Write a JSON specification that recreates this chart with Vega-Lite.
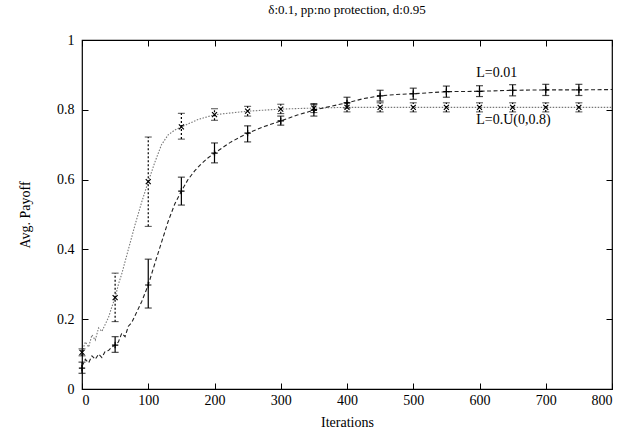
{
  "$schema": "https://vega.github.io/schema/vega-lite/v6.json",
  "width": 530,
  "height": 349,
  "autosize": "none",
  "padding": {"left": 82, "top": 40, "right": 12, "bottom": 49},
  "config": {
    "font": "Liberation Serif, Times New Roman, serif",
    "view": {"stroke": "#000", "strokeWidth": 1.2},
    "text": {"font": "Liberation Serif, Times New Roman, serif"},
    "axis": {"domain": false, "grid": false, "tickColor": "#000", "tickSize": -6, "labelColor": "#000", "labelFontSize": 14, "titleFontSize": 14, "titleFontWeight": "normal", "titleColor": "#000", "labelFont": "Liberation Serif, Times New Roman, serif", "titleFont": "Liberation Serif, Times New Roman, serif"}
  },
  "title": {"text": "δ:0.1, pp:no protection, d:0.95", "fontSize": 13, "fontWeight": "normal", "font": "Liberation Serif, Times New Roman, serif", "color": "#000", "offset": 16},
  "datasets": {
    "lines": [
      {"series": "L=0.01", "x": 0, "y": 0.065}, {"series": "L=0.01", "x": 5, "y": 0.085}, {"series": "L=0.01", "x": 10, "y": 0.075}, {"series": "L=0.01", "x": 15, "y": 0.095}, {"series": "L=0.01", "x": 20, "y": 0.085}, {"series": "L=0.01", "x": 25, "y": 0.1}, {"series": "L=0.01", "x": 30, "y": 0.09}, {"series": "L=0.01", "x": 35, "y": 0.108}, {"series": "L=0.01", "x": 40, "y": 0.11}, {"series": "L=0.01", "x": 45, "y": 0.12}, {"series": "L=0.01", "x": 50, "y": 0.126}, {"series": "L=0.01", "x": 55, "y": 0.135}, {"series": "L=0.01", "x": 60, "y": 0.16}, {"series": "L=0.01", "x": 65, "y": 0.15}, {"series": "L=0.01", "x": 70, "y": 0.18}, {"series": "L=0.01", "x": 75, "y": 0.19}, {"series": "L=0.01", "x": 80, "y": 0.21}, {"series": "L=0.01", "x": 90, "y": 0.25}, {"series": "L=0.01", "x": 100, "y": 0.298}, {"series": "L=0.01", "x": 110, "y": 0.36}, {"series": "L=0.01", "x": 120, "y": 0.42}, {"series": "L=0.01", "x": 130, "y": 0.48}, {"series": "L=0.01", "x": 140, "y": 0.53}, {"series": "L=0.01", "x": 150, "y": 0.567}, {"series": "L=0.01", "x": 160, "y": 0.6}, {"series": "L=0.01", "x": 170, "y": 0.625}, {"series": "L=0.01", "x": 180, "y": 0.645}, {"series": "L=0.01", "x": 190, "y": 0.662}, {"series": "L=0.01", "x": 200, "y": 0.676}, {"series": "L=0.01", "x": 225, "y": 0.708}, {"series": "L=0.01", "x": 250, "y": 0.733}, {"series": "L=0.01", "x": 275, "y": 0.752}, {"series": "L=0.01", "x": 300, "y": 0.768}, {"series": "L=0.01", "x": 325, "y": 0.785}, {"series": "L=0.01", "x": 350, "y": 0.799}, {"series": "L=0.01", "x": 375, "y": 0.81}, {"series": "L=0.01", "x": 400, "y": 0.82}, {"series": "L=0.01", "x": 425, "y": 0.832}, {"series": "L=0.01", "x": 450, "y": 0.84}, {"series": "L=0.01", "x": 475, "y": 0.844}, {"series": "L=0.01", "x": 500, "y": 0.846}, {"series": "L=0.01", "x": 550, "y": 0.852}, {"series": "L=0.01", "x": 600, "y": 0.853}, {"series": "L=0.01", "x": 650, "y": 0.856}, {"series": "L=0.01", "x": 700, "y": 0.857}, {"series": "L=0.01", "x": 750, "y": 0.857}, {"series": "L=0.01", "x": 800, "y": 0.858},
      {"series": "L=0.U(0,0.8)", "x": 0, "y": 0.105}, {"series": "L=0.U(0,0.8)", "x": 5, "y": 0.135}, {"series": "L=0.U(0,0.8)", "x": 10, "y": 0.12}, {"series": "L=0.U(0,0.8)", "x": 15, "y": 0.155}, {"series": "L=0.U(0,0.8)", "x": 20, "y": 0.14}, {"series": "L=0.U(0,0.8)", "x": 25, "y": 0.175}, {"series": "L=0.U(0,0.8)", "x": 30, "y": 0.165}, {"series": "L=0.U(0,0.8)", "x": 35, "y": 0.185}, {"series": "L=0.U(0,0.8)", "x": 40, "y": 0.205}, {"series": "L=0.U(0,0.8)", "x": 45, "y": 0.235}, {"series": "L=0.U(0,0.8)", "x": 50, "y": 0.262}, {"series": "L=0.U(0,0.8)", "x": 55, "y": 0.3}, {"series": "L=0.U(0,0.8)", "x": 60, "y": 0.33}, {"series": "L=0.U(0,0.8)", "x": 70, "y": 0.4}, {"series": "L=0.U(0,0.8)", "x": 80, "y": 0.47}, {"series": "L=0.U(0,0.8)", "x": 90, "y": 0.535}, {"series": "L=0.U(0,0.8)", "x": 100, "y": 0.594}, {"series": "L=0.U(0,0.8)", "x": 110, "y": 0.65}, {"series": "L=0.U(0,0.8)", "x": 120, "y": 0.7}, {"series": "L=0.U(0,0.8)", "x": 130, "y": 0.728}, {"series": "L=0.U(0,0.8)", "x": 140, "y": 0.742}, {"series": "L=0.U(0,0.8)", "x": 150, "y": 0.751}, {"series": "L=0.U(0,0.8)", "x": 175, "y": 0.772}, {"series": "L=0.U(0,0.8)", "x": 200, "y": 0.786}, {"series": "L=0.U(0,0.8)", "x": 250, "y": 0.796}, {"series": "L=0.U(0,0.8)", "x": 300, "y": 0.802}, {"series": "L=0.U(0,0.8)", "x": 350, "y": 0.805}, {"series": "L=0.U(0,0.8)", "x": 400, "y": 0.807}, {"series": "L=0.U(0,0.8)", "x": 500, "y": 0.807}, {"series": "L=0.U(0,0.8)", "x": 600, "y": 0.807}, {"series": "L=0.U(0,0.8)", "x": 700, "y": 0.807}, {"series": "L=0.U(0,0.8)", "x": 800, "y": 0.807}
    ],
    "bars": [
      {"series": "L=0.01", "x": 0, "y": 0.06, "lo": 0.045, "hi": 0.077},
      {"series": "L=0.01", "x": 50, "y": 0.126, "lo": 0.105, "hi": 0.15},
      {"series": "L=0.01", "x": 100, "y": 0.298, "lo": 0.232, "hi": 0.372},
      {"series": "L=0.01", "x": 150, "y": 0.567, "lo": 0.527, "hi": 0.607},
      {"series": "L=0.01", "x": 200, "y": 0.676, "lo": 0.648, "hi": 0.705},
      {"series": "L=0.01", "x": 250, "y": 0.733, "lo": 0.708, "hi": 0.754},
      {"series": "L=0.01", "x": 300, "y": 0.768, "lo": 0.756, "hi": 0.782},
      {"series": "L=0.01", "x": 350, "y": 0.799, "lo": 0.782, "hi": 0.815},
      {"series": "L=0.01", "x": 400, "y": 0.82, "lo": 0.805, "hi": 0.836},
      {"series": "L=0.01", "x": 450, "y": 0.84, "lo": 0.825, "hi": 0.856},
      {"series": "L=0.01", "x": 500, "y": 0.846, "lo": 0.83, "hi": 0.862},
      {"series": "L=0.01", "x": 550, "y": 0.852, "lo": 0.836, "hi": 0.868},
      {"series": "L=0.01", "x": 600, "y": 0.853, "lo": 0.838, "hi": 0.869},
      {"series": "L=0.01", "x": 650, "y": 0.856, "lo": 0.84, "hi": 0.872},
      {"series": "L=0.01", "x": 700, "y": 0.857, "lo": 0.841, "hi": 0.873},
      {"series": "L=0.01", "x": 750, "y": 0.857, "lo": 0.841, "hi": 0.873},
      {"series": "L=0.U(0,0.8)", "x": 0, "y": 0.105, "lo": 0.095, "hi": 0.115},
      {"series": "L=0.U(0,0.8)", "x": 50, "y": 0.262, "lo": 0.193, "hi": 0.332},
      {"series": "L=0.U(0,0.8)", "x": 100, "y": 0.594, "lo": 0.466, "hi": 0.722},
      {"series": "L=0.U(0,0.8)", "x": 150, "y": 0.751, "lo": 0.716, "hi": 0.79},
      {"series": "L=0.U(0,0.8)", "x": 200, "y": 0.786, "lo": 0.77, "hi": 0.803},
      {"series": "L=0.U(0,0.8)", "x": 250, "y": 0.796, "lo": 0.782, "hi": 0.81},
      {"series": "L=0.U(0,0.8)", "x": 300, "y": 0.802, "lo": 0.789, "hi": 0.816},
      {"series": "L=0.U(0,0.8)", "x": 350, "y": 0.805, "lo": 0.792, "hi": 0.818},
      {"series": "L=0.U(0,0.8)", "x": 400, "y": 0.807, "lo": 0.794, "hi": 0.82},
      {"series": "L=0.U(0,0.8)", "x": 450, "y": 0.807, "lo": 0.794, "hi": 0.82},
      {"series": "L=0.U(0,0.8)", "x": 500, "y": 0.807, "lo": 0.794, "hi": 0.82},
      {"series": "L=0.U(0,0.8)", "x": 550, "y": 0.807, "lo": 0.794, "hi": 0.82},
      {"series": "L=0.U(0,0.8)", "x": 600, "y": 0.807, "lo": 0.794, "hi": 0.82},
      {"series": "L=0.U(0,0.8)", "x": 650, "y": 0.807, "lo": 0.794, "hi": 0.82},
      {"series": "L=0.U(0,0.8)", "x": 700, "y": 0.807, "lo": 0.794, "hi": 0.82},
      {"series": "L=0.U(0,0.8)", "x": 750, "y": 0.807, "lo": 0.794, "hi": 0.82}
    ],
    "labels": [
      {"series": "L=0.01", "x": 595, "y": 0.905},
      {"series": "L=0.U(0,0.8)", "x": 595, "y": 0.77}
    ]
  },
  "resolve": {"axis": {"x": "independent", "y": "independent"}},
  "layer": [
    {
      "data": {"name": "lines"},
      "transform": [{"filter": "datum.series == 'L=0.U(0,0.8)'"}],
      "mark": {"type": "line", "color": "#777", "strokeDash": [1.5, 1.5], "strokeWidth": 1.1},
      "encoding": {
        "x": {"field": "x", "type": "quantitative", "scale": {"domain": [0, 800], "nice": false}, "axis": {"orient": "bottom", "title": "Iterations", "values": [0,100,200,300,400,500,600,700,800], "labelPadding": 10, "titlePadding": 8}},
        "y": {"field": "y", "type": "quantitative", "scale": {"domain": [0, 1], "nice": false}, "axis": {"orient": "left", "title": "Avg. Payoff", "format": "~g", "values": [0,0.2,0.4,0.6,0.8,1], "labelPadding": 14, "titlePadding": 24}}
      }
    },
    {
      "data": {"name": "lines"},
      "transform": [{"filter": "datum.series == 'L=0.01'"}],
      "mark": {"type": "line", "color": "#222", "strokeDash": [4, 2.5], "strokeWidth": 1.1},
      "encoding": {
        "x": {"field": "x", "type": "quantitative", "axis": {"orient": "top", "labels": false, "title": null, "values": [0,100,200,300,400,500,600,700,800]}},
        "y": {"field": "y", "type": "quantitative", "axis": {"orient": "right", "labels": false, "title": null, "values": [0,0.2,0.4,0.6,0.8,1]}}
      }
    },
    {
      "data": {"name": "bars"},
      "transform": [{"filter": "datum.series == 'L=0.01'"}],
      "layer": [
        {"mark": {"type": "rule", "color": "#000", "strokeWidth": 1.2}, "encoding": {"x": {"field": "x", "type": "quantitative", "axis": null}, "y": {"field": "lo", "type": "quantitative", "axis": null}, "y2": {"field": "hi"}}},
        {"mark": {"type": "tick", "orient": "horizontal", "color": "#000", "size": 7, "thickness": 1.2}, "encoding": {"x": {"field": "x", "type": "quantitative", "axis": null}, "y": {"field": "lo", "type": "quantitative", "axis": null}}},
        {"mark": {"type": "tick", "orient": "horizontal", "color": "#000", "size": 7, "thickness": 1.2}, "encoding": {"x": {"field": "x", "type": "quantitative", "axis": null}, "y": {"field": "hi", "type": "quantitative", "axis": null}}},
        {"mark": {"type": "point", "shape": "M-1,0L1,0M0,-1L0,1", "filled": false, "color": "#000", "size": 40, "strokeWidth": 1.2, "opacity": 1}, "encoding": {"x": {"field": "x", "type": "quantitative", "axis": null}, "y": {"field": "y", "type": "quantitative", "axis": null}}}
      ]
    },
    {
      "data": {"name": "bars"},
      "transform": [{"filter": "datum.series == 'L=0.U(0,0.8)'"}],
      "layer": [
        {"mark": {"type": "rule", "color": "#000", "strokeWidth": 1.2, "strokeDash": [2, 2]}, "encoding": {"x": {"field": "x", "type": "quantitative", "axis": null}, "y": {"field": "lo", "type": "quantitative", "axis": null}, "y2": {"field": "hi"}}},
        {"mark": {"type": "tick", "orient": "horizontal", "color": "#000", "size": 7, "thickness": 1, "strokeDash": [2, 1]}, "encoding": {"x": {"field": "x", "type": "quantitative", "axis": null}, "y": {"field": "lo", "type": "quantitative", "axis": null}}},
        {"mark": {"type": "tick", "orient": "horizontal", "color": "#000", "size": 7, "thickness": 1, "strokeDash": [2, 1]}, "encoding": {"x": {"field": "x", "type": "quantitative", "axis": null}, "y": {"field": "hi", "type": "quantitative", "axis": null}}},
        {"mark": {"type": "point", "shape": "M-1,-1L1,1M-1,1L1,-1", "filled": false, "color": "#000", "size": 25, "strokeWidth": 1.2, "opacity": 1}, "encoding": {"x": {"field": "x", "type": "quantitative", "axis": null}, "y": {"field": "y", "type": "quantitative", "axis": null}}}
      ]
    },
    {
      "data": {"name": "labels"},
      "mark": {"type": "text", "align": "left", "baseline": "middle", "fontSize": 14, "font": "Liberation Serif, Times New Roman, serif", "color": "#000"},
      "encoding": {
        "x": {"field": "x", "type": "quantitative", "axis": null},
        "y": {"field": "y", "type": "quantitative", "axis": null},
        "text": {"field": "series"}
      }
    }
  ]
}
